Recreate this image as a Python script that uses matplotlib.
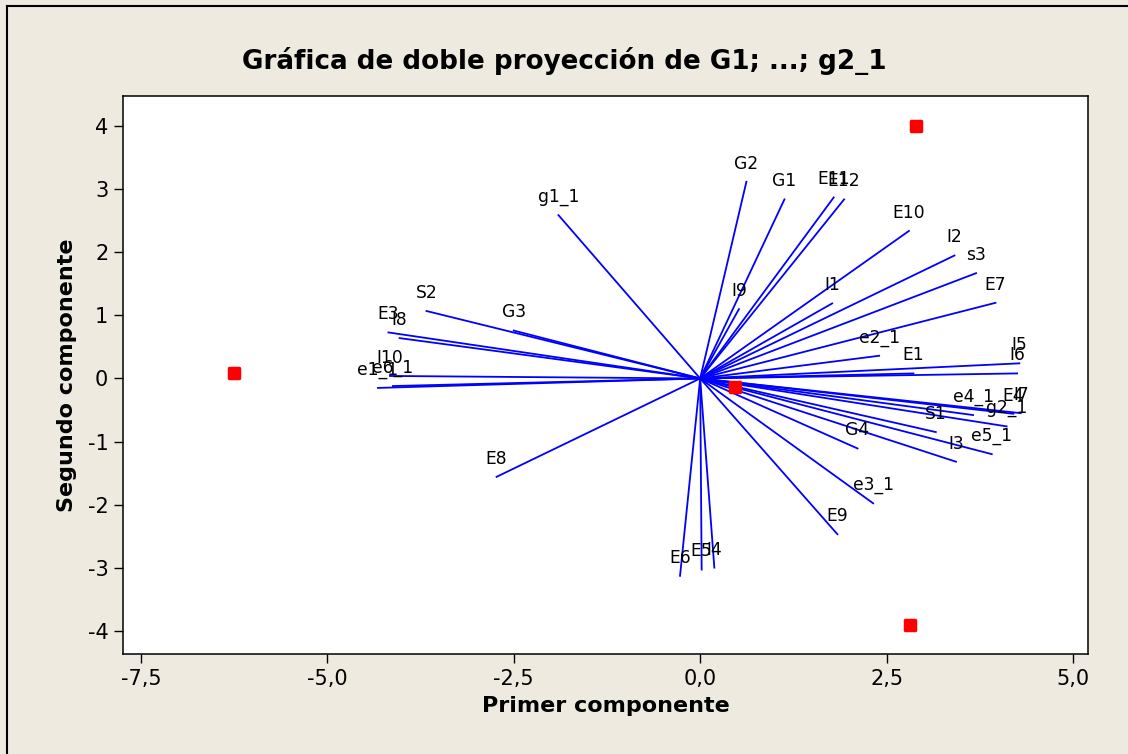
import numpy as np
import matplotlib
matplotlib.use("Agg")
import matplotlib.pyplot as plt
from matplotlib.ticker import FuncFormatter

# loadings (first / second component)
var_names = ["G1", "G2", "G3", "G4", "g1_1", "g2_1", "S1", "S2", "s3",
             "E1", "E3", "E4", "E5", "E6", "E7", "E8", "E9", "E10", "E11", "E12",
             "e1_1", "e2_1", "e3_1", "e4_1", "e5_1", "e6_1",
             "I1", "I2", "I3", "I4", "I5", "I6", "I7", "I8", "I9", "I10"]
pc1 = [1.13, 0.62, -2.50, 2.11, -1.90, 4.11, 3.16, -3.67, 3.70,
       2.86, -4.18, 4.20, 0.02, -0.27, 3.96, -2.73, 1.84, 2.80, 1.79, 1.93,
       -4.32, 2.40, 2.32, 3.66, 3.91, -4.12,
       1.77, 3.41, 3.43, 0.19, 4.28, 4.25, 4.30, -4.03, 0.52, -4.16]
pc2 = [2.84, 3.12, 0.76, -1.11, 2.59, -0.76, -0.85, 1.07, 1.67,
       0.08, 0.73, -0.56, -3.03, -3.13, 1.20, -1.56, -2.47, 2.34, 2.87, 2.84,
       -0.15, 0.36, -1.98, -0.58, -1.20, -0.12,
       1.19, 1.95, -1.32, -3.00, 0.24, 0.08, -0.55, 0.64, 1.10, 0.04]

# observation scores
obs_x = [-6.25, 2.89, 2.81, 0.47]
obs_y = [0.09, 4.00, -3.91, -0.14]

bg = "#EEEAE0"
fig = plt.figure(figsize=(11.28, 7.54), dpi=100, facecolor=bg)
ax = fig.add_axes([0.109, 0.1326, 0.8555, 0.7401])
ax.set_facecolor("white")

for name, x, y in zip(var_names, pc1, pc2):
    ax.plot([0, x], [0, y], color="#0000FF", lw=1.3, zorder=2)
    ax.annotate(name, (x, y), xytext=(0, 13), textcoords="offset points",
                ha="center", va="center", fontsize=12.3, color="black", zorder=3)

ax.scatter(obs_x, obs_y, marker="s", s=60, color="#FF0000", edgecolors="#FF0000",
           linewidths=2.5, zorder=4)

ax.set_xlim(-7.74, 5.20)
ax.set_ylim(-4.37, 4.48)
ax.set_xticks([-7.5, -5.0, -2.5, 0.0, 2.5, 5.0])
ax.set_yticks([-4, -3, -2, -1, 0, 1, 2, 3, 4])
ax.xaxis.set_major_formatter(FuncFormatter(lambda v, p: ("%.1f" % v).replace(".", ",")))
ax.yaxis.set_major_formatter(FuncFormatter(lambda v, p: "%d" % v))
ax.tick_params(direction="out", length=6.5, width=1, labelsize=15, pad=4)
for sp in ax.spines.values():
    sp.set_linewidth(1.1)

ax.set_xlabel("Primer componente", fontsize=16, fontweight="bold", labelpad=5)
ax.set_ylabel("Segundo componente", fontsize=16, fontweight="bold", labelpad=8)
fig.text(0.5, 1 - 61 / 754, "Gráfica de doble proyección de G1; ...; g2_1",
         ha="center", va="center", fontsize=18.8, fontweight="bold")

# outer frame (left / top edges visible)
fig.add_artist(plt.Line2D([7 / 1128, 7 / 1128], [0, 1 - 6 / 754], color="black", lw=1.5,
                          transform=fig.transFigure))
fig.add_artist(plt.Line2D([7 / 1128, 1], [1 - 6 / 754, 1 - 6 / 754], color="black", lw=1.5,
                          transform=fig.transFigure))

fig.savefig("out.png", dpi=100, facecolor=bg)
